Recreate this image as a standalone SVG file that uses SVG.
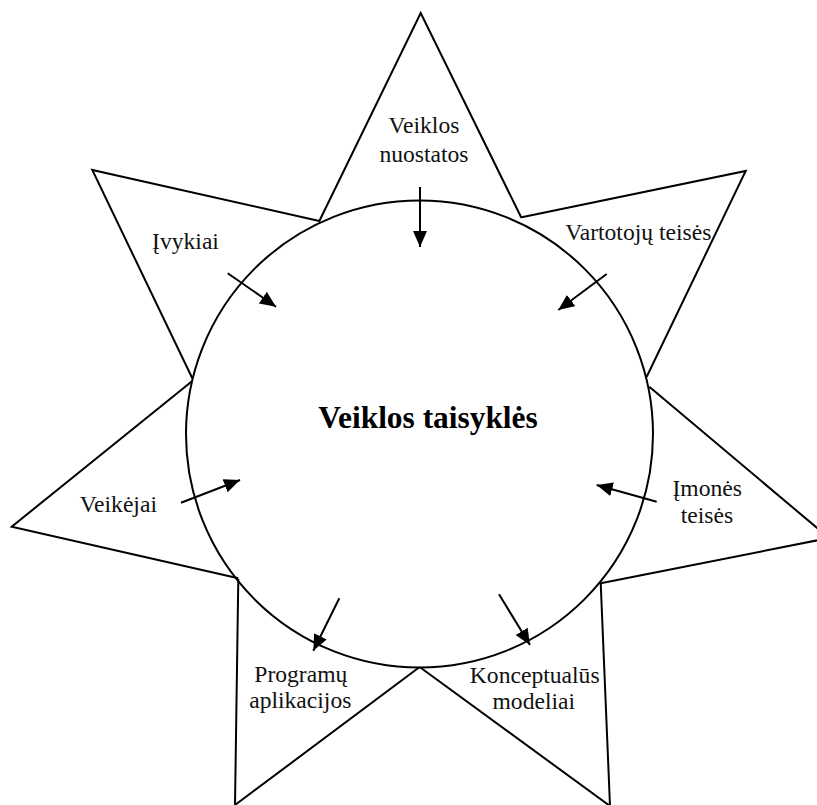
<svg xmlns="http://www.w3.org/2000/svg" width="817" height="805" viewBox="0 0 817 805">
  <style>
    .edge { fill: none; stroke: #000; stroke-width: 2; stroke-linejoin: miter; }
    .lbl { font-family: "Liberation Serif", "Times New Roman", serif; font-size: 23.6px; fill: #111; text-anchor: middle; }
    .title { font-family: "Liberation Serif", "Times New Roman", serif; font-size: 31.4px; font-weight: bold; fill: #000; text-anchor: middle; }
    .conn { stroke: #000; stroke-width: 2; fill: none; marker-end: url(#arrow); }
  </style>
  <defs>
    <marker id="arrow" markerUnits="userSpaceOnUse" markerWidth="16" markerHeight="14" refX="16" refY="7" orient="auto">
      <path d="M0,0 L16,7 L0,14 Z" fill="#000"/>
    </marker>
  </defs>
  <rect width="817" height="805" fill="#fff"/>

  <g id="node-veiklos-nuostatos">
    <polyline class="edge" points="319,221.7 420.7,13 521.5,218"/>
    <text class="lbl" x="424" y="133">Veiklos</text>
    <text class="lbl" x="424" y="161.7">nuostatos</text>
  </g>
  <g id="node-vartotoju-teises">
    <polyline class="edge" points="521.7,217.3 745.7,171 646.7,376.7"/>
    <text class="lbl" x="638.3" y="240">Vartotojų teisės</text>
  </g>
  <g id="node-imones-teises">
    <polyline class="edge" points="649.3,386.7 829,538 600.7,583.3"/>
    <text class="lbl" x="707.2" y="496">Įmonės</text>
    <text class="lbl" x="707" y="522.7">teisės</text>
  </g>
  <g id="node-konceptualus-modeliai">
    <polyline class="edge" points="600.7,583 610,806 420,667.3"/>
    <text class="lbl" x="534.7" y="683.3">Konceptualūs</text>
    <text class="lbl" x="533.8" y="709.3">modeliai</text>
  </g>
  <g id="node-programu-aplikacijos">
    <polyline class="edge" points="419.3,667.3 235,805 238.3,579"/>
    <text class="lbl" x="300.8" y="681.7">Programų</text>
    <text class="lbl" x="300.3" y="708.3">aplikacijos</text>
  </g>
  <g id="node-veikejai">
    <polyline class="edge" points="238.3,578.3 11.7,526.7 191.7,381.5"/>
    <text class="lbl" x="118.3" y="511.7">Veikėjai</text>
  </g>
  <g id="node-ivykiai">
    <polyline class="edge" points="192.3,378.3 92.3,170 319.3,221"/>
    <text class="lbl" x="185.5" y="249.3">Įvykiai</text>
  </g>
  <g id="node-veiklos-taisykles">
    <circle class="edge" cx="419.5" cy="434" r="233.5"/>
    <text class="title" x="428" y="427.7">Veiklos taisyklės</text>
  </g>

  <g id="connectors">
    <line class="conn" x1="420" y1="187" x2="420" y2="247"/>
    <line class="conn" x1="227.7" y1="273.3" x2="276" y2="306.7"/>
    <line class="conn" x1="606.7" y1="274" x2="558.3" y2="310"/>
    <line class="conn" x1="181" y1="502.7" x2="240" y2="480"/>
    <line class="conn" x1="656.7" y1="501.7" x2="596.7" y2="485"/>
    <line class="conn" x1="339.3" y1="598.3" x2="313.3" y2="650.7"/>
    <line class="conn" x1="499" y1="594.3" x2="530" y2="645"/>
  </g>
</svg>
